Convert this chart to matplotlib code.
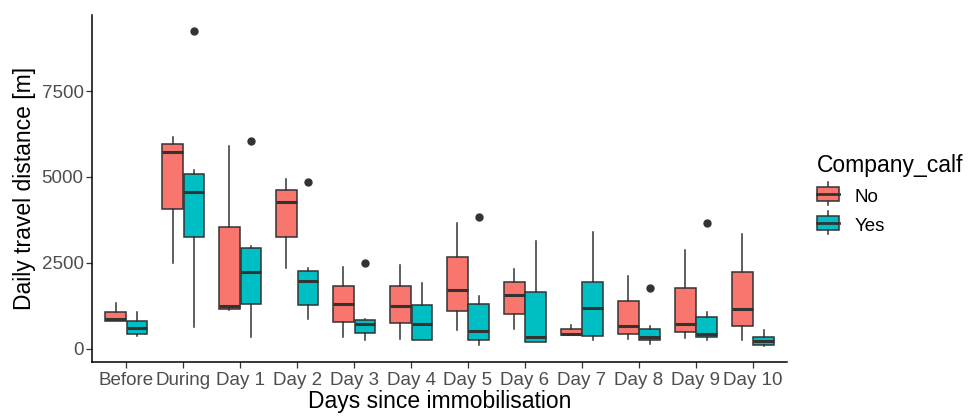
import numpy as np
import matplotlib
matplotlib.use("Agg")
import matplotlib.pyplot as plt
from matplotlib.legend_handler import HandlerBase
from matplotlib.patches import Rectangle, Patch
from matplotlib.lines import Line2D

plt.rcParams['font.family'] = ['Liberation Sans', 'DejaVu Sans']

days = ["Before", "During", "Day 1", "Day 2", "Day 3", "Day 4", "Day 5",
        "Day 6", "Day 7", "Day 8", "Day 9", "Day 10"]

# box stats: whisker low, q1, median, q3, whisker high
no_whislo = [824, 2491, 1134, 2346, 358, 291, 543, 572, 397, 291, 330, 252]
no_q1 = [824, 4080, 1172, 3265, 794, 756, 1115, 1018, 397, 436, 504, 678]
no_med = [872, 5718, 1250, 4283, 1299, 1260, 1725, 1580, 446, 669, 736, 1163]
no_q3 = [1075, 5950, 3556, 4613, 1841, 1841, 2684, 1948, 581, 1395, 1773, 2238]
no_whishi = [1328, 6153, 5910, 4933, 2374, 2442, 3672, 2335, 688, 2131, 2868, 3333]
no_fliers = [[], [], [], [], [], [], [], [], [], [], [], []]

yes_whislo = [388, 648, 358, 881, 262, 271, 116, 194, 262, 145, 262, 87]
yes_q1 = [436, 3265, 1308, 1279, 475, 271, 262, 194, 368, 252, 339, 116]
yes_med = [601, 4564, 2248, 1968, 736, 736, 533, 358, 1201, 359, 426, 223]
yes_q3 = [824, 5097, 2927, 2259, 834, 1270, 1318, 1666, 1958, 581, 930, 339]
yes_whishi = [1075, 5204, 2994, 2346, 862, 1919, 1531, 3149, 3391, 659, 1076, 552]
yes_fliers = [[], [9235], [6047], [4855], [2509], [], [3837], [], [], [1773], [3663], []]

groups = ["No", "Yes"]
colors = ["#F8766D", "#00BFC4"]
edge = "#333333"


def make_stats(lo, q1, med, q3, hi, fl):
    return [dict(whislo=a, q1=b, med=c, q3=d, whishi=e, fliers=f)
            for a, b, c, d, e, f in zip(lo, q1, med, q3, hi, fl)]


stats = [
    make_stats(no_whislo, no_q1, no_med, no_q3, no_whishi, no_fliers),
    make_stats(yes_whislo, yes_q1, yes_med, yes_q3, yes_whishi, yes_fliers),
]

fig = plt.figure(figsize=(9.79, 4.17), dpi=100)
ax = fig.add_axes([0.094, 0.132, 0.710, 0.832])

x = np.arange(1, len(days) + 1)
offsets = [-0.1875, 0.1875]
for st, off, col in zip(stats, offsets, colors):
    ax.bxp(st, positions=x + off, widths=0.36, patch_artist=True,
           showcaps=False,
           boxprops=dict(facecolor=col, edgecolor=edge, linewidth=1.1),
           medianprops=dict(color=edge, linewidth=2.2),
           whiskerprops=dict(color=edge, linewidth=1.1),
           flierprops=dict(marker='o', markerfacecolor=edge, markeredgecolor=edge,
                           markersize=5),
           zorder=2)

ax.set_xlim(0.4, 12.6)
ax.set_ylim(-380, 9710)
ax.set_xticks(x)
ax.set_xticklabels(days)
ax.set_yticks([0, 2500, 5000, 7500])
ax.tick_params(axis='both', colors=edge, length=4, width=0.9,
               labelsize=13.5, labelcolor="#4D4D4D")
ax.tick_params(axis='x', pad=3)
ax.tick_params(axis='y', pad=2)
for side in ['top', 'right']:
    ax.spines[side].set_visible(False)
for side in ['left', 'bottom']:
    ax.spines[side].set_linewidth(1.1)
    ax.spines[side].set_color('black')

ax.set_xlabel("Days since immobilisation", fontsize=16.5, labelpad=1)
ax.set_ylabel("Daily travel distance [m]", fontsize=16.5, labelpad=4)


class BoxKey(HandlerBase):
    def create_artists(self, legend, orig, xd, yd, w, h, fontsize, trans):
        cx = xd + w / 2
        rect = Rectangle((xd, yd), w, h, facecolor=orig.get_facecolor(),
                         edgecolor=edge, linewidth=1.1, transform=trans)
        wh1 = Line2D([cx, cx], [yd + h, yd + h + 3], color=edge, lw=1.1, transform=trans)
        wh2 = Line2D([cx, cx], [yd - 3, yd], color=edge, lw=1.1, transform=trans)
        med = Line2D([xd, xd + w], [yd + h / 2, yd + h / 2], color=edge, lw=2, transform=trans)
        return [wh1, wh2, rect, med]


handles = [Patch(facecolor=c, label=g) for c, g in zip(colors, groups)]
leg = fig.legend(handles=handles, labels=groups, title="Company_calf",
                 loc='upper left', bbox_to_anchor=(0.817, 0.672),
                 frameon=False, fontsize=13.5, title_fontsize=16.5,
                 handler_map={Patch: BoxKey()}, handlelength=1.2, handleheight=0.8,
                 handletextpad=0.8, labelspacing=0.6)
leg._legend_box.align = "left"

fig.savefig("out.png", dpi=100)
